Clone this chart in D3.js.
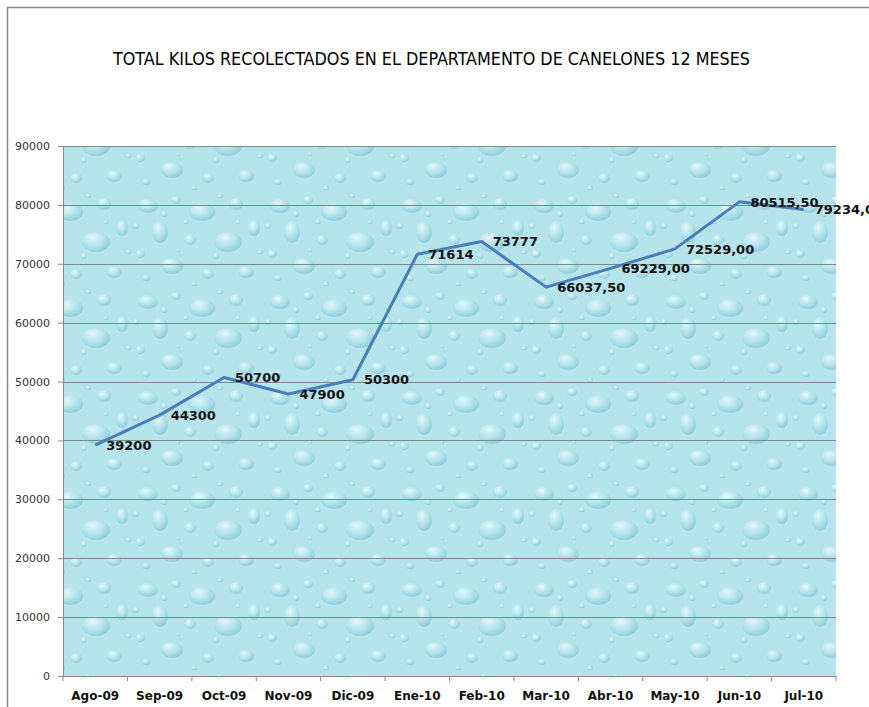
<!DOCTYPE html>
<html>
<head>
<meta charset="utf-8">
<script src="https://cdn.jsdelivr.net/npm/d3@7"></script>
<style>
  body { margin: 0; background: #fff; }
  svg { display: block; }
</style>
</head>
<body>
<div id="grafico"></div>
<script>
const meses = ["Ago-09", "Sep-09", "Oct-09", "Nov-09", "Dic-09", "Ene-10", "Feb-10", "Mar-10", "Abr-10", "May-10", "Jun-10", "Jul-10"];
const kilos = [39200, 44300, 50700, 47900, 50300, 71614, 73777, 66037.5, 69229, 72529, 80515.5, 79234];
const etiquetas = ["39200", "44300", "50700", "47900", "50300", "71614", "73777", "66037,50", "69229,00", "72529,00", "80515,50", "79234,00"];
const ticksY = [0, 10000, 20000, 30000, 40000, 50000, 60000, 70000, 80000, 90000];

const width = 869, height = 707;
const margin = { top: 146, right: 33, bottom: 31, left: 63 };

const svg = d3.select('#grafico').append('svg')
    .attr('width', width)
    .attr('height', height);

// marco
svg.append('path')
    .attr('d', 'M7.5,' + height + 'V7.5H' + width)
    .attr('fill', 'none')
    .attr('stroke', '#8a8a8a')
    .attr('stroke-width', 1.5);

// textura de gotas
const defs = svg.append('defs');
const grad = defs.append('radialGradient').attr('id', 'gota')
    .attr('cx', '38%').attr('cy', '30%').attr('r', '70%');
grad.append('stop').attr('offset', '0%').attr('stop-color', '#eefbfd');
grad.append('stop').attr('offset', '45%').attr('stop-color', '#bde8ef');
grad.append('stop').attr('offset', '100%').attr('stop-color', '#86cbd9');

const pat = defs.append('pattern').attr('id', 'agua')
    .attr('patternUnits', 'userSpaceOnUse')
    .attr('width', 132).attr('height', 96);
pat.append('rect').attr('width', 132).attr('height', 96).attr('fill', '#b6e4eb');
const gotas = [
    [16, 14, 10, 7], [44, 8, 5, 4], [70, 20, 13, 9], [28, 40, 8, 11],
    [58, 48, 6, 5], [8, 62, 5, 4], [104, 12, 7, 6], [122, 36, 6, 8],
    [96, 50, 14, 10], [40, 74, 11, 8], [76, 82, 6, 5], [114, 80, 8, 6],
    [32, 22, 3, 3], [88, 4, 3, 2], [4, 34, 3, 3], [54, 30, 3, 2],
    [84, 64, 3, 3], [14, 86, 4, 3], [128, 60, 3, 2], [62, 92, 3, 2],
    [106, 30, 2, 2], [46, 58, 2, 2]
];
pat.selectAll('ellipse').data(gotas).enter().append('ellipse')
    .attr('cx', d => d[0]).attr('cy', d => d[1])
    .attr('rx', d => d[2]).attr('ry', d => d[3])
    .attr('fill', 'url(#gota)')
    .attr('opacity', 0.8);

const x = d3.scaleBand()
    .domain(meses)
    .range([margin.left, width - margin.right])
    .padding(0);

const y = d3.scaleLinear()
    .domain([0, 90000])
    .range([height - margin.bottom, margin.top]);

svg.append('rect')
    .attr('x', margin.left)
    .attr('y', margin.top)
    .attr('width', width - margin.right - margin.left)
    .attr('height', height - margin.bottom - margin.top)
    .attr('fill', 'url(#agua)');

// lineas de division
svg.append('g')
    .selectAll('line')
    .data(ticksY.filter(d => d > 0))
    .enter()
    .append('line')
    .attr('x1', margin.left)
    .attr('x2', width - margin.right)
    .attr('y1', d => Math.round(y(d)) + 0.5)
    .attr('y2', d => Math.round(y(d)) + 0.5)
    .attr('stroke', '#7d8a8c')
    .attr('stroke-width', 1);

// eje Y
const ejeY = svg.append('g')
    .attr('transform', 'translate(' + margin.left + ',0)')
    .call(d3.axisLeft(y).tickValues(ticksY).tickSize(5).tickPadding(8).tickFormat(d3.format('d')));
ejeY.select('.domain').attr('stroke', '#8a8a8a');
ejeY.selectAll('.tick line').attr('stroke', '#8a8a8a');
ejeY.selectAll('text')
    .attr('font-family', 'DejaVu Sans, Verdana, sans-serif')
    .attr('font-size', 11)
    .attr('fill', '#333');

// eje X
const ejeX = svg.append('g')
    .attr('transform', 'translate(0,' + (height - margin.bottom) + ')')
    .call(d3.axisBottom(x).tickSize(0).tickPadding(15));
ejeX.select('.domain').attr('stroke', '#8a8a8a');
ejeX.selectAll('text')
    .attr('font-family', 'DejaVu Sans, Verdana, sans-serif')
    .attr('font-weight', 'bold')
    .attr('font-size', 12)
    .attr('fill', '#111');
ejeX.append('g')
    .selectAll('line')
    .data(meses.concat(['fin']))
    .enter()
    .append('line')
    .attr('x1', (d, i) => margin.left + i * x.bandwidth())
    .attr('x2', (d, i) => margin.left + i * x.bandwidth())
    .attr('y1', 0)
    .attr('y2', 5)
    .attr('stroke', '#8a8a8a');

// linea de datos
const linea = d3.line()
    .x((d, i) => x(meses[i]) + x.bandwidth() / 2)
    .y(d => y(d));

svg.append('path')
    .datum(kilos)
    .attr('d', linea)
    .attr('fill', 'none')
    .attr('stroke', '#4a7dbb')
    .attr('stroke-width', 3)
    .attr('stroke-linejoin', 'round');

// etiquetas de datos
svg.append('g')
    .selectAll('text')
    .data(kilos)
    .enter()
    .append('text')
    .attr('x', (d, i) => x(meses[i]) + x.bandwidth() / 2 + 11)
    .attr('y', d => y(d))
    .attr('dy', '0.36em')
    .attr('font-family', 'DejaVu Sans, Verdana, sans-serif')
    .attr('font-weight', 'bold')
    .attr('font-size', 13)
    .attr('fill', '#111')
    .text((d, i) => etiquetas[i]);

// titulo
svg.append('text')
    .attr('x', 113)
    .attr('y', 65)
    .attr('textLength', 637)
    .attr('lengthAdjust', 'spacingAndGlyphs')
    .attr('font-family', 'Liberation Sans Narrow, DejaVu Sans Condensed, Liberation Sans, sans-serif')
    .attr('font-size', 18)
    .attr('fill', '#000')
    .text('TOTAL KILOS RECOLECTADOS EN EL  DEPARTAMENTO DE CANELONES 12 MESES');
</script>
</body>
</html>
